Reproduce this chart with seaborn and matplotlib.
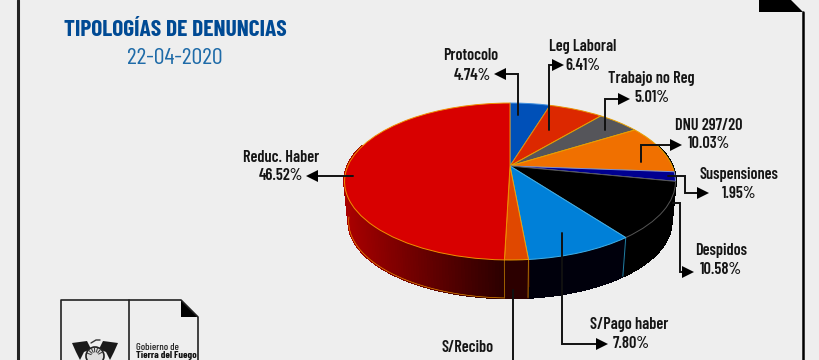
import numpy as np
import matplotlib
matplotlib.use("Agg")
import matplotlib.pyplot as plt
import matplotlib.transforms as mtransforms
from matplotlib.collections import PolyCollection
from matplotlib.patches import Polygon, Circle
import seaborn as sns

# ---- data ----
categories = ["Protocolo", "Leg Laboral", "Trabajo no Reg", "DNU 297/20", "Suspensiones",
              "Despidos", "S/Pago haber", "S/Recibo", "Reduc. Haber"]
printed = ["4.74%", "6.41%", "5.01%", "10.03%", "1.95%", "10.58%", "7.80%", "", "46.52%"]
# slice sizes as drawn in the picture (the drawing departs from the printed shares near the bottom)
slice_sizes = [4.74, 6.41, 5.01, 10.03, 1.95, 11.6, 8.8, 1.9, 49.56]
face_colors = ["#0050b8", "#dc2800", "#55555a", "#f07000", "#000090",
               "#000000", "#0080d8", "#e04800", "#d80000"]
edge_colors = ["#3f8fe0", "#e89000", "#e8a000", "#e8a000", "#8090d0",
               "#555555", "#40b0e8", "#f0a000", "#f09000"]
wall_colors = ["#000000", "#000000", "#000000", "#000000", "#000000",
               "#000000", "#00000c", "#2c0000", "#d80000"]

BG = "#eeeeee"
NARROW = ["Barlow Condensed", "Roboto", "DejaVu Sans"]

sns.set_theme(style="white", rc={"figure.facecolor": BG, "axes.facecolor": BG})
palette = sns.color_palette(face_colors)

fig = plt.figure(figsize=(8.2, 3.6), dpi=100)
ax = fig.add_axes([0, 0, 1, 1])

# perspective map of the unit disc to the tilted top face
CX, CY, S, T, K = 510.0, 166.0, 162.2, 75.4, 0.1975


class Tilt(mtransforms.Transform):
    input_dims = 2
    output_dims = 2
    is_separable = False
    has_inverse = False

    def transform_non_affine(self, values):
        v = np.asarray(values, float)
        d = 1 + K * v[:, 1]
        return np.column_stack([CX + S * v[:, 0] / d, CY - T * v[:, 1] / d])


tilt = Tilt()


def top_edge(theta):
    return tilt.transform_non_affine(np.column_stack([np.sin(theta), np.cos(theta)]))


def bottom_edge(theta):
    p = top_edge(theta)
    return np.column_stack([510 + (p[:, 0] - 510) * 0.975, 181 + (p[:, 1] - 181) * 0.975 + 40])


wedges, _ = ax.pie(slice_sizes, colors=palette, startangle=90, counterclock=False,
                   radius=1, center=(0, 0), wedgeprops={"linewidth": 0.7})
for w, ec in zip(wedges, edge_colors):
    w.set_transform(tilt + ax.transData)
    w.set_edgecolor(ec)
    w.set_zorder(3)

ax.set_aspect("auto")
ax.set_xlim(0, 820)
ax.set_ylim(360, 0)
ax.axis("off")
fig.patch.set_facecolor(BG)

# side wall
edges = np.radians(np.concatenate([[0], np.cumsum(slice_sizes)]) / sum(slice_sizes) * 360)
quads, cols = [], []
for i, wc in enumerate(wall_colors):
    n = max(int(np.degrees(edges[i + 1] - edges[i]) / 1.0), 2)
    th = np.linspace(edges[i], edges[i + 1], n + 1)
    top, bot = top_edge(th), bottom_edge(th)
    for j in range(n):
        if not (np.radians(75) < th[j] < np.radians(285)):
            continue
        quads.append([top[j], top[j + 1], bot[j + 1], bot[j]])
        if i == 8:
            t = np.clip((510 - top[j, 0]) / 165, 0, 1)
            cols.append((0.16 + 0.50 * t ** 1.1, 0, 0))
        else:
            cols.append(wc)
ax.add_collection(PolyCollection(quads, facecolors=cols, edgecolors=cols, linewidths=1.2,
                                 antialiaseds=False, zorder=2))

# seams and bottom rim on the wall
th_rim = np.linspace(edges[8], np.radians(262), 80)
ax.plot(*bottom_edge(th_rim).T, color="#e89000", lw=0.5, zorder=2.5)
for idx, col in [(7, "#b07000"), (8, "#a06000"), (6, "#2080a0")]:
    th_s = np.array([edges[idx]])
    a, b = top_edge(th_s)[0], bottom_edge(th_s)[0]
    ax.plot([a[0], b[0]], [a[1], b[1]], color=col, lw=0.7, zorder=2.6)

# leader lines: (path, arrow direction)
leaders = [
    ([(518, 115), (518, 74), (500, 74)], "<"),
    ([(549, 130), (549, 65), (558, 65)], ">"),
    ([(605, 130), (605, 99), (624, 99)], ">"),
    ([(641, 162), (641, 145), (676, 145)], ">"),
    ([(668, 176), (685, 176), (685, 193), (703, 193)], ">"),
    ([(673, 203), (680, 203), (680, 272), (688, 272)], ">"),
    ([(562, 233), (562, 344), (602, 344)], ">"),
    ([(513, 290), (513, 362)], None),
    ([(353, 176), (312, 176)], "<"),
]
for path, mk in leaders:
    xs, ys = zip(*path)
    ax.plot(xs, ys, color="#111111", lw=1.4, zorder=5, solid_joinstyle="miter", clip_on=False)
    if mk:
        ax.plot(xs[-1], ys[-1], marker=mk, ms=8.5, color="#000000", mew=0, zorder=5)

# labels
name_pos = [(471, 56), (583, 46), (651, 79), (709, 125), (739, 174), (721, 250), (629, 325), (468, 347), (281, 157)]
value_pos = [(472, 75), (583, 65), (652, 98), (709, 144), (739, 193), (721, 270), (631, 344), None, (281, 176)]
txt = dict(family=NARROW, fontweight=600, color="#151515", fontsize=11.7, ha="center", va="center", zorder=6)
for name, val, np_, vp in zip(categories, printed, name_pos, value_pos):
    ax.text(*np_, name, **txt)
    if vp:
        ax.text(*vp, val, **txt)

# title
ax.text(175, 29.5, "TIPOLOGÍAS DE DENUNCIAS", family=NARROW, fontweight=700, fontsize=16.9,
        color="#004a94", ha="center", va="center")
ax.text(175, 59, "22-04-2020", family=NARROW, fontweight=400, fontsize=17.3, color="#1f6ba8", ha="center", va="center")

# page frame
ax.plot([18, 18], [0, 360], color="#222222", lw=2.2)
ax.plot([803.5, 803.5], [12, 360], color="#000000", lw=1.8)
ax.add_patch(Polygon([(759, 0), (791, 0), (803, 12), (759, 12)], closed=True, fc="black", ec="none"))

# logo block
ax.plot([61, 61, 181, 198, 198], [360, 300, 300, 317, 360], color="#222222", lw=1.2)
ax.plot([129, 129], [300, 360], color="#222222", lw=1.2)
ax.add_patch(Polygon([(181, 300), (198, 317), (181, 317)], closed=True, fc="black", ec="none"))
ax.text(136, 348, "Gobierno de", family=NARROW, fontsize=7.4, fontweight=500, color="#222222", va="center", ha="left")
ax.text(136, 355.5, "Tierra del Fuego", family=NARROW, fontsize=7.4, fontweight=700,
        color="#111111", va="center", ha="left")

# emblem
ax.add_patch(Polygon([(72, 343), (87, 341), (91, 349), (84, 352), (80, 360), (76, 352)], closed=True, fc="#1a1a1a", ec="none"))
ax.add_patch(Polygon([(118, 343), (103, 341), (99, 349), (106, 352), (110, 360), (114, 352)], closed=True, fc="#1a1a1a", ec="none"))
ax.add_patch(Circle((95, 356), 9, fc="#dddddd", ec="#222222", lw=1.2))
for ang in np.radians(np.arange(200, 345, 22)):
    ax.plot([95 + 4 * np.cos(ang), 95 + 8 * np.cos(ang)], [356 + 4 * np.sin(ang), 356 + 8 * np.sin(ang)],
            color="#333333", lw=0.7)
ax.plot([91, 96, 100], [343, 340, 340], color="#333333", lw=1)

fig.savefig("out.png", dpi=100, facecolor=BG)
